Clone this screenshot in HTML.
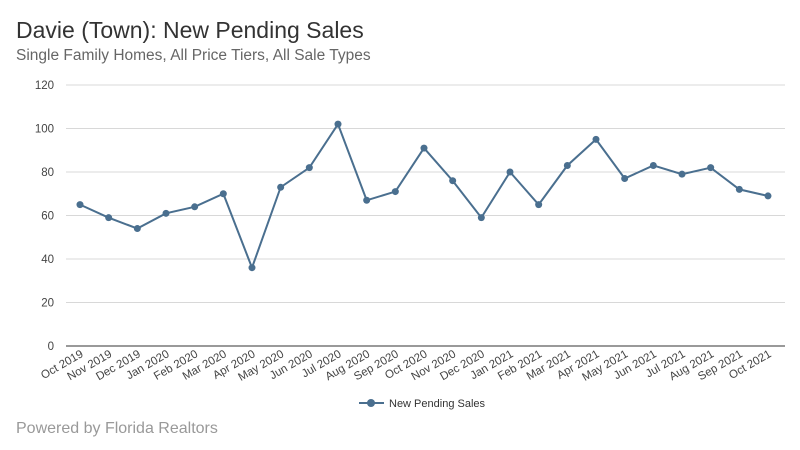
<!DOCTYPE html>
<html><head><meta charset="utf-8"><style>
body{margin:0;background:#fff;font-family:"Liberation Sans",sans-serif}
#wrap{position:relative;width:800px;height:450px;overflow:hidden}
</style></head><body>
<div id="wrap">
<svg id="chart" width="800" height="450">
<text x="16" y="38" font-size="23" fill="#333">Davie (Town): New Pending Sales</text>
<text x="16" y="60" font-size="15.5" fill="#666">Single Family Homes, All Price Tiers, All Sale Types</text>
<text x="16" y="433" font-size="16" fill="#999">Powered by Florida Realtors</text>
<g id="grid"></g><g id="xlabels"></g><g id="series"></g>
<g>
<line x1="359" y1="403" x2="384" y2="403" stroke="#4a6f8f" stroke-width="2"/>
<circle cx="371" cy="403" r="4" fill="#4a6f8f"/>
<text x="389" y="407" font-size="11" fill="#333">New Pending Sales</text>
</g>
</svg></div>
<script>
const categories=["Oct 2019","Nov 2019","Dec 2019","Jan 2020","Feb 2020","Mar 2020","Apr 2020","May 2020","Jun 2020","Jul 2020","Aug 2020","Sep 2020","Oct 2020","Nov 2020","Dec 2020","Jan 2021","Feb 2021","Mar 2021","Apr 2021","May 2021","Jun 2021","Jul 2021","Aug 2021","Sep 2021","Oct 2021"];
const values=[65,59,54,61,64,70,36,73,82,102,67,71,91,76,59,80,65,83,95,77,83,79,82,72,69];
const yTicks=[0,20,40,60,80,100,120];
const NS="http://www.w3.org/2000/svg";
const x0=80,x1=768,y0=346,y1=85,yMax=120;
function xs(i){return x0+(x1-x0)*i/(categories.length-1);}
function ys(v){return y0-(y0-y1)*v/yMax;}
function mk(t,a,p){const e=document.createElementNS(NS,t);for(const k in a)e.setAttribute(k,a[k]);p.appendChild(e);return e;}
const grid=document.getElementById('grid');
yTicks.forEach(v=>{
 const l=mk('line',{x1:66,x2:785,y1:ys(v),y2:ys(v),stroke:v===0?'#333':'#d8d8d8','stroke-width':1},grid);
 
 
 const t=mk('text',{x:54,y:ys(v)+4,'font-size':11.5,fill:'#444','text-anchor':'end'},grid);
 t.textContent=v;
 
 
});
const xl=document.getElementById('xlabels');
categories.forEach((c,i)=>{
 const x=xs(i)+4,y=356;
 const t=mk('text',{x:x,y:y,'font-size':11.5,fill:'#444','text-anchor':'end',transform:`rotate(-30 ${x} ${y})`},xl);
 t.textContent=c;
 
 
});
const s=document.getElementById('series');
const p=mk('polyline',{points:values.map((v,i)=>xs(i)+','+ys(v)).join(' '),fill:'none',stroke:'#4a6f8f','stroke-width':2},s);


values.forEach((v,i)=>{
 const c=mk('circle',{cx:xs(i),cy:ys(v),r:3.5,fill:'#4a6f8f'},s);
 
 
});
</script>
</body></html>
